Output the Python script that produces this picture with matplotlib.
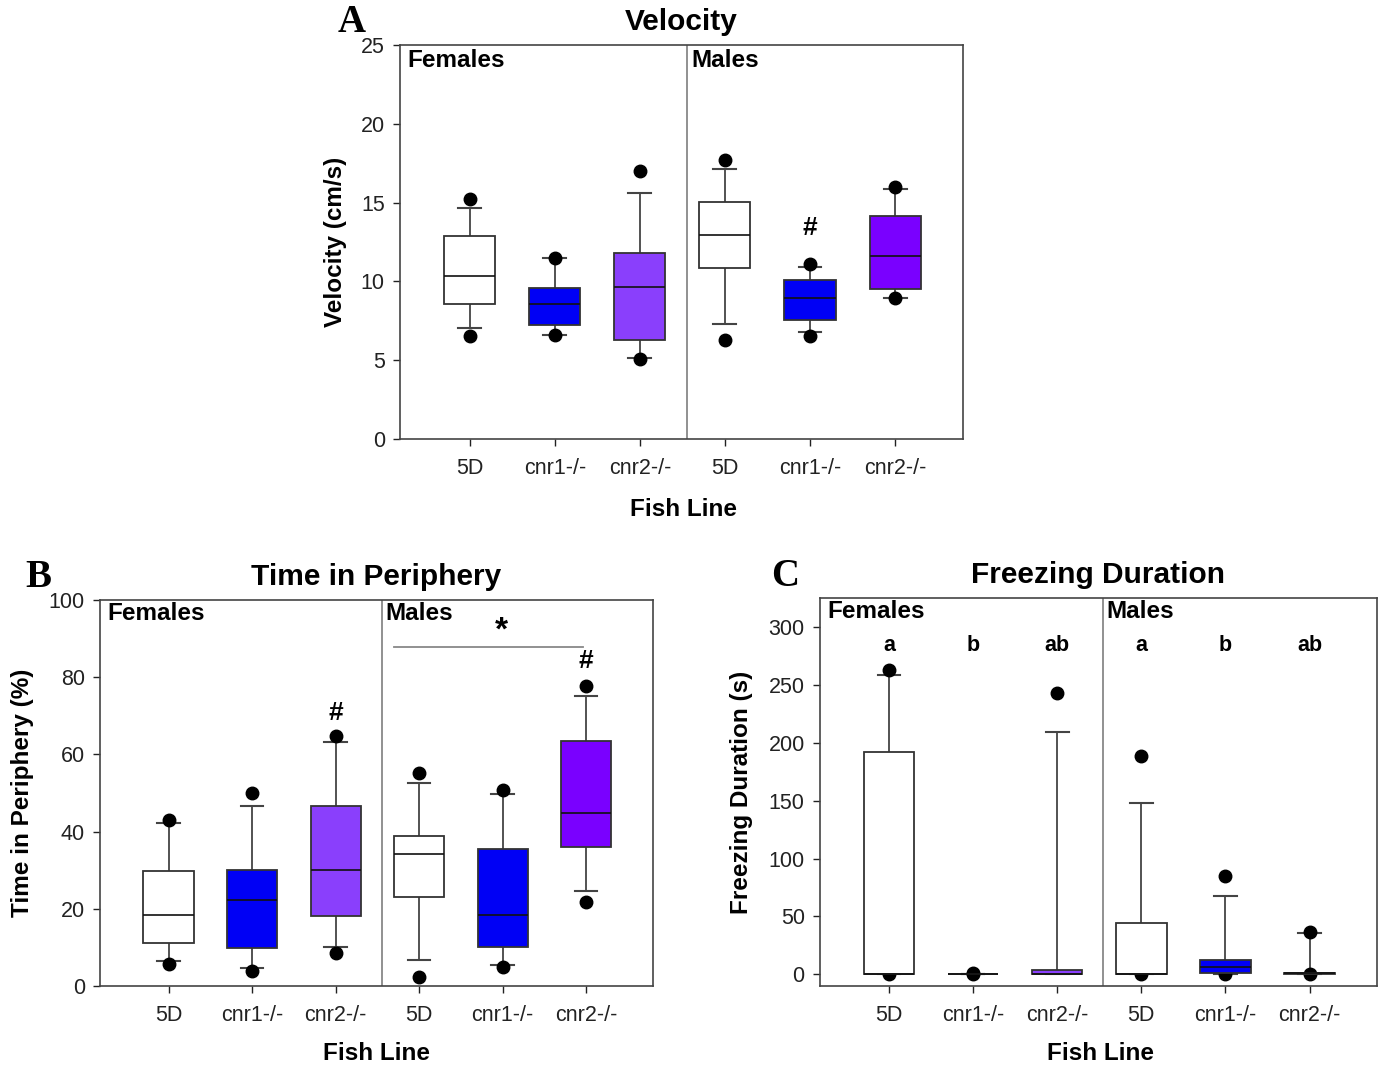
import matplotlib.pyplot as plt

plt.rcParams['font.family'] = ['Liberation Sans', 'DejaVu Sans']

lines = ['5D', 'cnr1-/-', 'cnr2-/-', '5D', 'cnr1-/-', 'cnr2-/-']
box_colors = ['#ffffff', '#0000f5', '#8a3ffc', '#ffffff', '#0000f5', '#7a00ff']

# A - velocity (cm/s)
vel_lo = [7.02, 6.6, 5.16, 7.32, 6.77, 8.97]
vel_q1 = [8.55, 7.21, 6.3, 10.87, 7.53, 9.5]
vel_med = [10.34, 8.55, 9.67, 12.94, 8.93, 11.59]
vel_q3 = [12.86, 9.58, 11.78, 15.02, 10.11, 14.13]
vel_hi = [14.66, 11.47, 15.63, 17.11, 10.89, 15.84]
vel_out = [[6.54, 15.25], [6.6, 11.49], [5.08, 17.03],
           [6.28, 17.7], [6.52, 11.1], [8.97, 15.99]]

# B - time in periphery (%)
per_lo = [6.56, 4.57, 10.1, 6.74, 5.35, 24.6]
per_q1 = [11.06, 9.76, 18.1, 23.0, 10.1, 35.9]
per_med = [18.3, 22.4, 30.1, 34.1, 18.3, 44.7]
per_q3 = [29.9, 30.05, 46.6, 38.9, 35.4, 63.5]
per_hi = [42.1, 46.5, 63.2, 52.5, 49.7, 75.2]
per_out = [[5.78, 43.0], [3.89, 50.0], [8.64, 64.8],
           [2.33, 55.1], [4.92, 50.8], [21.8, 77.8]]

# C - freezing duration (s)
frz_lo = [0, 0, 0, 0, 0, 0]
frz_q1 = [0, 0, 0.3, 0, 1.1, 0]
frz_med = [0.3, 0, 0.5, 0.3, 6.3, 1.0]
frz_q3 = [191.8, 0, 3.5, 44.7, 12.7, 1.5]
frz_hi = [258.4, 0, 209.6, 148.2, 67.7, 35.7]
frz_out = [[0, 262.4], [0, 1.0], [242.8],
           [0, 188.6], [0, 84.8], [0, 36.6]]
frz_letters = ['a', 'b', 'ab', 'a', 'b', 'ab']

edge = '#333333'


def draw(ax, lo, q1, med, q3, hi, out, ymax, ystep):
    stats = []
    for i in range(len(lines)):
        stats.append(dict(whislo=lo[i], q1=q1[i], med=med[i], q3=q3[i],
                          whishi=hi[i], fliers=out[i]))
    bp = ax.bxp(stats, positions=range(1, 7), widths=0.6, patch_artist=True,
                capwidths=0.27, showfliers=True,
                boxprops=dict(edgecolor=edge, linewidth=1.3, zorder=2.5),
                medianprops=dict(color='#111111', linewidth=1.2, zorder=2.6),
                whiskerprops=dict(color='#444444', linewidth=1.3),
                capprops=dict(color='#444444', linewidth=1.5),
                flierprops=dict(marker='o', markerfacecolor='black',
                                markeredgecolor='black', markersize=9,
                                linestyle='none'))
    for patch, c in zip(bp['boxes'], box_colors):
        patch.set_facecolor(c)
    ax.set_xlim(0.18, 6.8)
    ax.axvline(3.55, color='#888888', linewidth=1.3)
    ax.set_xticks(range(1, 7))
    ax.set_xticklabels(lines)
    ax.set_yticks(range(0, ymax + 1, ystep))
    ax.tick_params(axis='both', direction='out', length=5, width=1,
                   labelsize=15.5, colors='#222222')
    ax.tick_params(axis='x', pad=9)
    ax.tick_params(axis='y', pad=6)
    for s in ax.spines.values():
        s.set_color('#444444')
        s.set_linewidth(1.2)


def labels(ax, title, ylab, ylab_x, xlab_x, xlab_y):
    ax.set_title(title, fontsize=21.5, fontweight='bold', pad=11)
    ax.set_ylabel(ylab, fontsize=17.5, fontweight='bold', va='center')
    ax.yaxis.set_label_coords(ylab_x, 0.5)
    ax.set_xlabel('Fish Line', fontsize=17.5, fontweight='bold', va='center')
    ax.xaxis.set_label_coords(xlab_x, xlab_y)


def head(ax, y, xm):
    ax.text(0.27, y, 'Females', fontsize=17.5, fontweight='bold', va='center')
    ax.text(xm, y, 'Males', fontsize=17.5, fontweight='bold', va='center')


fig = plt.figure(figsize=(13.8, 10.68), dpi=100)

axA = fig.add_axes([0.2899, 0.5890, 0.4080, 0.3689])
draw(axA, vel_lo, vel_q1, vel_med, vel_q3, vel_hi, vel_out, 25, 5)
axA.set_ylim(0, 25)
labels(axA, 'Velocity', 'Velocity (cm/s)', -0.115, 0.503, -0.178)
head(axA, 24.0, 3.6)
axA.text(5, 13.4, '#', fontsize=19, fontweight='bold', ha='center', va='center')

axB = fig.add_axes([0.0725, 0.0768, 0.4007, 0.3614])
draw(axB, per_lo, per_q1, per_med, per_q3, per_hi, per_out, 100, 20)
axB.set_ylim(0, 100)
labels(axB, 'Time in Periphery', 'Time in Periphery (%)', -0.141, 0.5, -0.176)
head(axB, 96.4, 3.6)
axB.text(3, 70.7, '#', fontsize=19, fontweight='bold', ha='center', va='center')
axB.text(6, 84.2, '#', fontsize=19, fontweight='bold', ha='center', va='center')
axB.plot([3.70, 5.96], [87.8, 87.8], color='#888888', linewidth=1.3)
axB.text(4.98, 92.0, '*', fontsize=24, fontweight='bold', ha='center', va='center')

axC = fig.add_axes([0.5942, 0.0768, 0.4035, 0.3633])
draw(axC, frz_lo, frz_q1, frz_med, frz_q3, frz_hi, frz_out, 300, 50)
axC.set_ylim(-10, 325)
labels(axC, 'Freezing Duration', 'Freezing Duration (s)', -0.141, 0.503, -0.175)
head(axC, 313, 3.58)
for i, lab in enumerate(frz_letters):
    axC.text(i + 1, 283.7, lab, fontsize=15.5, fontweight='bold',
             ha='center', va='center')

for x, y, letter in [(0.255, 0.979, 'A'), (0.0275, 0.459, 'B'), (0.569, 0.460, 'C')]:
    fig.text(x, y, letter, fontsize=28, fontweight='bold', ha='center', va='center',
             family=['Liberation Serif', 'DejaVu Serif'])

fig.savefig('out.png', dpi=100)
